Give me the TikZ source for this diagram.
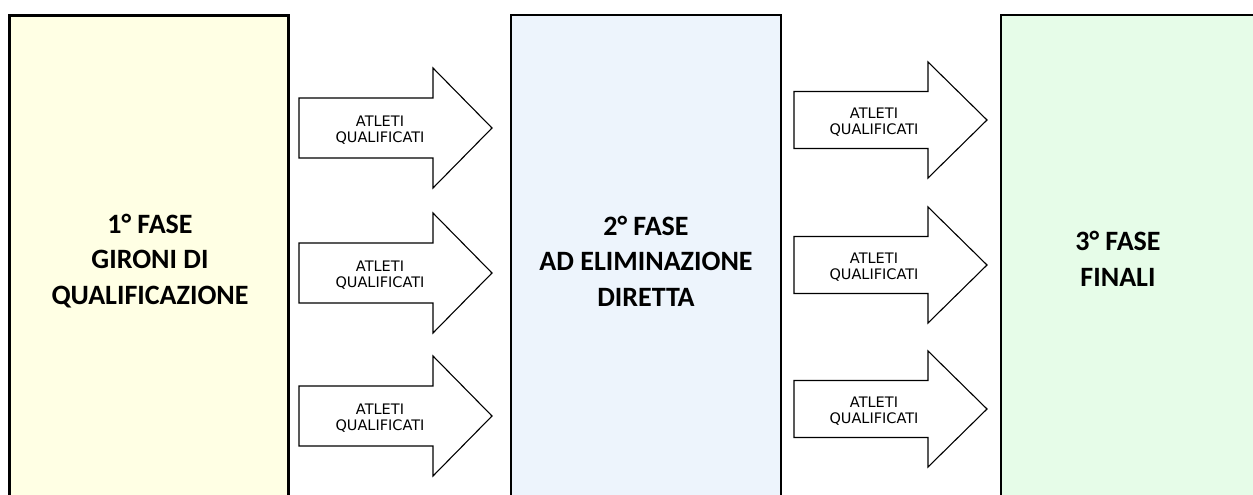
\documentclass[tikz,border=0pt]{standalone}
\usepackage{fontspec}
\newfontfamily\carlito{Carlito}
\newfontfamily\dejavu{DejaVu Sans}
\definecolor{fillA}{RGB}{255,255,228}
\definecolor{fillB}{RGB}{237,244,252}
\definecolor{fillC}{RGB}{230,252,232}
\tikzset{
  phasebox/.style={draw=black, anchor=north west, inner sep=0pt, outer sep=0pt},
  phasetext/.style={align=center, inner sep=0pt, font=\carlito\bfseries\fontsize{28}{35.5}\selectfont},
  arrowbody/.style={draw=black, fill=white, line width=1.1pt, line join=miter},
  arrowtext/.style={align=center, inner sep=0pt, font=\dejavu\fontsize{14.5}{16.5}\selectfont}
}
\begin{document}
\begin{tikzpicture}[x=1pt,y=-1pt]
\useasboundingbox (0,0) rectangle (1253,495);
\fill[white] (0,0) rectangle (1253,495);
\clip (0,0) rectangle (1253,495);
% phase boxes
\node[phasebox, line width=3pt, fill=fillA, minimum width=279pt, minimum height=510pt] (p1) at (9.5,15.5) {};
\node[phasebox, line width=2pt, fill=fillB, minimum width=270pt, minimum height=510pt] (p2) at (511,15) {};
\node[phasebox, line width=2.5pt, fill=fillC, minimum width=300pt, minimum height=510pt] (p3) at (1001,15) {};
\node[phasetext] (t1) at (150,261) {1° FASE\\GIRONI DI\\QUALIFICAZIONE};
\node[phasetext] (t2) at (646,261) {2° FASE\\AD ELIMINAZIONE\\DIRETTA};
\node[phasetext] (t3) at (1118,259) {3° FASE\\FINALI};
% arrows column 1
\foreach \n/\yc in {1/128,2/273,3/416} {
  \draw[arrowbody] (299,{\yc-30}) -- (433,{\yc-30}) -- (433,{\yc-60}) -- (492,\yc)
    -- (433,{\yc+60}) -- (433,{\yc+30}) -- (299,{\yc+30}) -- cycle;
  \node[arrowtext] (a\n) at (380,{\yc+2}) {ATLETI\\QUALIFICATI};
}
% arrows column 2
\foreach \n/\yc in {1/120,2/265,3/409} {
  \draw[arrowbody] (794,{\yc-28.5}) -- (928,{\yc-28.5}) -- (928,{\yc-58}) -- (987,\yc)
    -- (928,{\yc+58}) -- (928,{\yc+28.5}) -- (794,{\yc+28.5}) -- cycle;
  \node[arrowtext] (b\n) at (874,{\yc+2}) {ATLETI\\QUALIFICATI};
}
\end{tikzpicture}
\end{document}
